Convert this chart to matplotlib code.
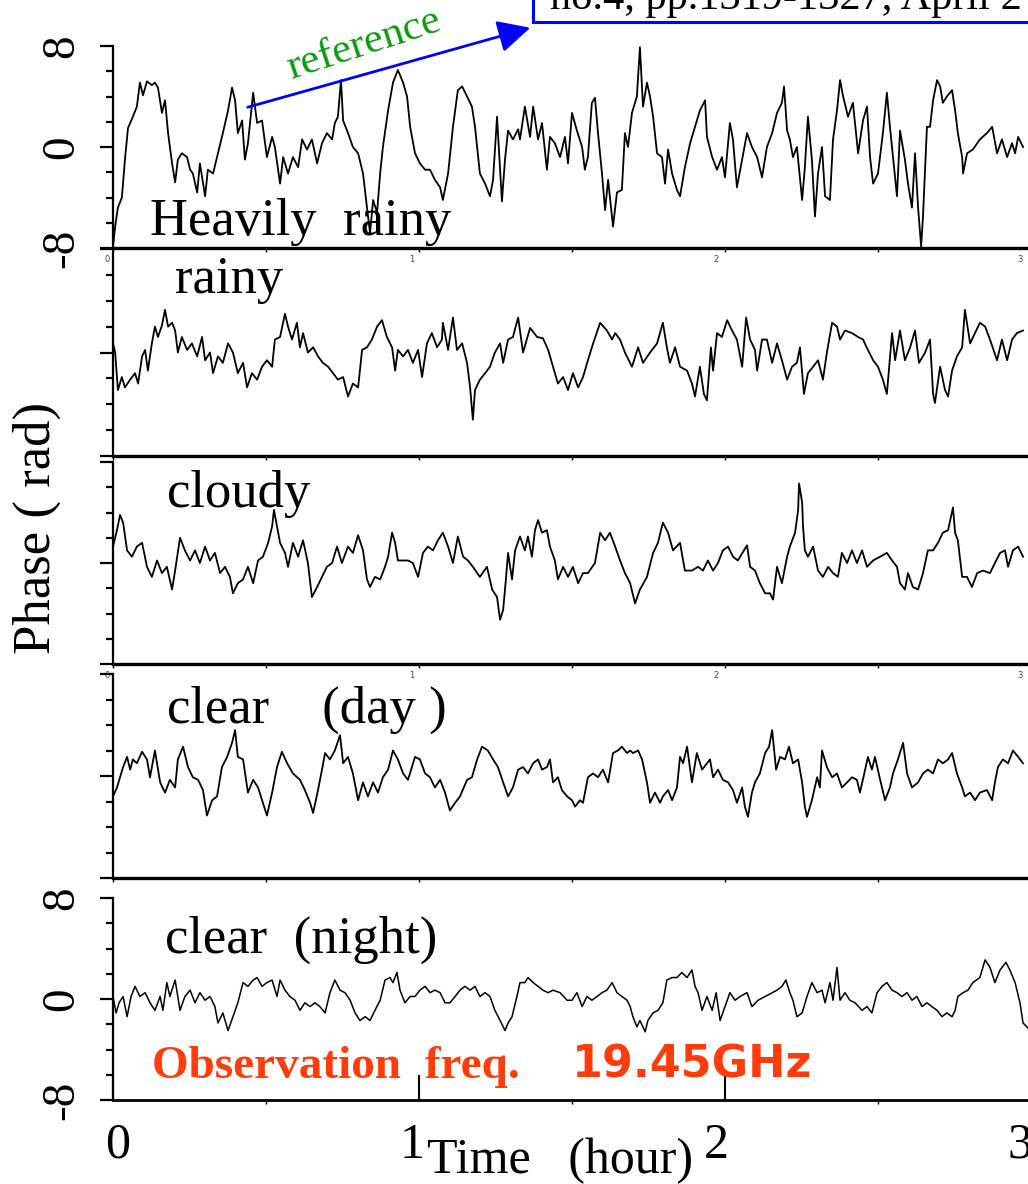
import matplotlib
matplotlib.use("Agg")
import matplotlib.pyplot as plt
from matplotlib.ticker import FixedLocator, MultipleLocator
from matplotlib.patches import Rectangle, FancyArrowPatch
from matplotlib.transforms import ScaledTranslation

plt.rcParams['font.family'] = ['Liberation Serif', 'DejaVu Serif']

# ---- data: time (hour) and phase (rad) ----
t_heavy = [
    0.000, 0.007, 0.016, 0.029, 0.039, 0.049, 0.065, 0.078, 0.088, 0.098,
    0.111, 0.127, 0.137, 0.147, 0.160, 0.170, 0.180, 0.193, 0.203, 0.212,
    0.225, 0.242, 0.252, 0.261, 0.275, 0.284, 0.301, 0.310, 0.327, 0.343,
    0.359, 0.376, 0.389, 0.399, 0.408, 0.422, 0.431, 0.441, 0.458, 0.471,
    0.487, 0.503, 0.520, 0.529, 0.546, 0.556, 0.572, 0.588, 0.605, 0.618,
    0.634, 0.650, 0.667, 0.683, 0.699, 0.716, 0.725, 0.735, 0.745, 0.752,
    0.768, 0.784, 0.801, 0.817, 0.830, 0.840, 0.850, 0.863, 0.873, 0.882,
    0.899, 0.915, 0.931, 0.948, 0.961, 0.971, 0.987, 1.003, 1.020, 1.036,
    1.052, 1.069, 1.078, 1.095, 1.111, 1.127, 1.141, 1.157, 1.173, 1.183,
    1.199, 1.216, 1.232, 1.242, 1.255, 1.271, 1.281, 1.291, 1.307, 1.324,
    1.330, 1.346, 1.363, 1.373, 1.389, 1.402, 1.418, 1.428, 1.444, 1.461,
    1.477, 1.487, 1.500, 1.516, 1.533, 1.542, 1.552, 1.565, 1.575, 1.585,
    1.598, 1.608, 1.618, 1.634, 1.647, 1.663, 1.673, 1.683, 1.696, 1.712,
    1.722, 1.732, 1.745, 1.755, 1.765, 1.778, 1.794, 1.804, 1.814, 1.827,
    1.843, 1.853, 1.869, 1.886, 1.902, 1.918, 1.935, 1.941, 1.958, 1.974,
    1.990, 2.000, 2.016, 2.026, 2.039, 2.056, 2.072, 2.088, 2.105, 2.121,
    2.137, 2.154, 2.170, 2.186, 2.193, 2.203, 2.212, 2.222, 2.235, 2.252,
    2.261, 2.271, 2.284, 2.294, 2.304, 2.317, 2.327, 2.343, 2.353, 2.366,
    2.376, 2.386, 2.402, 2.418, 2.435, 2.451, 2.464, 2.474, 2.484, 2.500,
    2.516, 2.529, 2.539, 2.549, 2.562, 2.572, 2.588, 2.598, 2.611, 2.621,
    2.631, 2.641, 2.647, 2.660, 2.670, 2.680, 2.693, 2.703, 2.712, 2.725,
    2.742, 2.752, 2.761, 2.775, 2.778, 2.791, 2.810, 2.833, 2.856, 2.873,
    2.889, 2.905, 2.922, 2.938, 2.948, 2.958, 2.974]
ph_heavy = [
    -7.9, -6.3, -4.8, -4.0, -1.0, 1.5, 2.4, 3.2, 5.1, 4.1,
    5.2, 4.9, 5.1, 4.7, 2.7, 3.7, 1.1, -1.3, -2.8, -1.0,
    -0.5, -0.8, -1.8, -2.1, -3.6, -1.3, -3.9, -1.8, -2.1, -0.5,
    1.1, 2.9, 4.7, 3.7, 1.1, 2.1, -1.0, 0.3, 4.3, 1.9,
    2.1, -0.8, 0.8, 0.0, -2.9, -0.8, -2.1, -0.8, -1.6, 0.6,
    -0.2, 0.6, -1.3, 0.3, 1.1, 0.6, 1.9, 2.4, 5.3, 2.1,
    1.1, 0.0, -0.5, -2.1, -4.8, -6.8, -4.2, -5.2, -2.1, 0.0,
    2.9, 5.1, 6.1, 5.1, 4.0, 1.6, -0.5, -1.3, -1.8, -1.8,
    -2.6, -3.2, -4.2, -2.1, 1.6, 4.5, 4.8, 4.0, 3.2, 1.6,
    -2.1, -2.9, -3.9, -2.6, 2.4, -4.3, -1.0, 1.3, 0.6, 1.4,
    0.6, 3.2, 0.8, 3.2, 0.6, 1.9, -1.8, 0.8, 0.3, -0.8,
    0.8, -1.3, 2.7, 1.3, 0.0, -1.8, -0.8, 3.5, 3.9, 1.1,
    -2.1, -5.0, -2.6, -6.3, -3.6, -3.4, 1.1, 0.0, 2.7, 4.0,
    7.9, 3.2, 5.1, 4.0, 2.4, -0.5, -0.8, -2.9, -0.2, -2.1,
    -3.4, -3.9, -1.6, 0.3, 1.6, 2.9, 3.7, 0.8, -0.8, -1.8,
    -0.8, -2.4, 1.9, 0.6, -3.2, -1.0, 1.1, 0.0, -0.8, -2.4,
    0.0, 1.1, 2.7, 3.5, 4.8, 1.3, 0.6, -0.8, 0.0, -4.2,
    -1.6, 2.4, -1.0, -5.5, -2.1, 0.0, -3.9, -4.2, 0.6, 2.9,
    5.3, 4.0, 2.4, 3.5, -0.5, 2.1, 3.2, -0.8, -2.9, -2.1,
    1.1, 4.3, 1.6, -0.8, -3.9, 1.3, -1.0, -2.9, -4.8, -0.5,
    -4.8, -7.9, -5.5, 1.6, 1.6, 3.7, 5.3, 4.8, 3.5, 4.0,
    4.5, 2.9, 1.1, -0.8, -2.1, -0.5, -0.2, 0.6, 1.1, 1.6,
    -0.5, 0.6, -0.8, 0.3, -0.5, 0.8, 0.0]

t_rainy = [
    0.000, 0.007, 0.016, 0.029, 0.039, 0.056, 0.072, 0.082, 0.095, 0.105,
    0.114, 0.127, 0.137, 0.147, 0.160, 0.170, 0.180, 0.193, 0.203, 0.212,
    0.225, 0.242, 0.258, 0.275, 0.291, 0.301, 0.317, 0.327, 0.343, 0.359,
    0.376, 0.392, 0.408, 0.425, 0.438, 0.454, 0.471, 0.487, 0.503, 0.520,
    0.529, 0.546, 0.562, 0.572, 0.585, 0.601, 0.611, 0.621, 0.637, 0.654,
    0.670, 0.686, 0.703, 0.719, 0.735, 0.752, 0.768, 0.784, 0.801, 0.814,
    0.830, 0.846, 0.863, 0.879, 0.895, 0.912, 0.922, 0.931, 0.948, 0.964,
    0.980, 0.997, 1.010, 1.026, 1.042, 1.059, 1.075, 1.078, 1.095, 1.111,
    1.124, 1.141, 1.157, 1.167, 1.176, 1.183, 1.199, 1.216, 1.232, 1.248,
    1.265, 1.275, 1.291, 1.307, 1.324, 1.340, 1.363, 1.386, 1.405, 1.422,
    1.438, 1.454, 1.471, 1.487, 1.503, 1.520, 1.536, 1.552, 1.569, 1.592,
    1.614, 1.631, 1.641, 1.657, 1.673, 1.696, 1.716, 1.732, 1.755, 1.778,
    1.797, 1.810, 1.820, 1.837, 1.853, 1.876, 1.892, 1.902, 1.918, 1.931,
    1.941, 1.954, 1.961, 1.974, 1.990, 2.007, 2.023, 2.039, 2.056, 2.069,
    2.082, 2.098, 2.105, 2.121, 2.137, 2.154, 2.170, 2.186, 2.203, 2.219,
    2.235, 2.245, 2.258, 2.271, 2.288, 2.304, 2.320, 2.333, 2.350, 2.366,
    2.376, 2.392, 2.415, 2.435, 2.451, 2.467, 2.484, 2.500, 2.516, 2.529,
    2.546, 2.556, 2.572, 2.588, 2.605, 2.621, 2.634, 2.654, 2.670, 2.680,
    2.686, 2.703, 2.719, 2.729, 2.742, 2.758, 2.775, 2.784, 2.801, 2.817,
    2.833, 2.850, 2.866, 2.889, 2.905, 2.922, 2.938, 2.954, 2.974]
ph_rainy = [
    0.7, 0.0, -2.9, -1.9, -2.7, -2.1, -1.6, -2.4, -0.3, 0.2,
    -1.4, 0.7, 2.0, 1.2, 2.1, 3.3, 2.0, 2.3, 1.7, 0.0,
    1.2, 0.2, 0.7, -0.3, 1.2, -0.6, 0.0, -1.6, -0.3, -0.8,
    0.7, 0.0, -1.6, -0.8, -2.7, -1.6, -2.1, -1.1, -0.6, -1.1,
    1.0, 1.2, 3.0, 2.0, 1.0, 2.3, 0.4, 1.5, 0.0, 0.4,
    -0.3, -0.8, -1.1, -1.6, -2.1, -1.9, -3.4, -2.4, -2.7, 0.2,
    0.4, 1.0, 2.0, 2.5, 1.2, 0.4, -1.4, 0.2, -0.3, 0.2,
    -0.8, 0.2, -1.9, 0.7, 1.5, 0.4, 1.0, 2.3, 0.2, 2.7,
    0.2, 0.7, -0.8, -2.7, -5.2, -2.9, -2.1, -1.6, -1.1, 0.0,
    0.7, -0.8, 1.0, 1.2, 2.7, 0.0, 1.9, 1.2, 1.1, 0.2,
    -1.1, -2.4, -1.9, -2.9, -1.6, -2.7, -1.9, -0.6, 0.7, 2.3,
    1.7, 1.0, 1.5, 1.0, 0.0, -1.1, 0.4, -0.8, 0.0, 0.7,
    2.3, 0.4, -0.8, 0.4, -1.1, -1.4, -2.4, -3.4, -1.1, -3.2,
    -3.7, 0.4, -1.4, 1.5, 1.2, 2.5, 1.7, 1.0, -1.1, 2.7,
    1.0, 0.2, -1.4, 1.0, 1.0, -0.8, 0.7, -0.6, -2.1, -1.1,
    -0.8, 0.4, -3.2, -1.6, -1.1, -0.6, -2.1, 0.0, 2.3, 2.0,
    1.0, 1.7, 1.5, 1.2, 1.0, 0.2, -0.6, -1.1, -2.1, -3.2,
    1.5, -0.6, 1.7, -0.6, 0.4, 1.7, -0.8, 0.0, 1.0, -3.2,
    -3.9, -1.1, -2.9, -3.4, -1.4, -0.3, 0.4, 3.3, 0.7, 1.5,
    2.3, 2.0, 1.0, -0.6, 1.0, -0.6, 1.0, 1.5, 1.7]

t_cloudy = [
    0.000, 0.013, 0.023, 0.033, 0.046, 0.062, 0.078, 0.095, 0.111, 0.127,
    0.144, 0.160, 0.176, 0.193, 0.203, 0.219, 0.235, 0.252, 0.268, 0.284,
    0.301, 0.317, 0.333, 0.350, 0.366, 0.382, 0.392, 0.408, 0.425, 0.441,
    0.458, 0.474, 0.490, 0.507, 0.520, 0.526, 0.536, 0.546, 0.562, 0.572,
    0.588, 0.605, 0.621, 0.637, 0.650, 0.667, 0.683, 0.699, 0.716, 0.732,
    0.748, 0.768, 0.784, 0.801, 0.817, 0.830, 0.840, 0.856, 0.873, 0.889,
    0.899, 0.912, 0.922, 0.931, 0.948, 0.964, 0.980, 0.997, 1.013, 1.029,
    1.046, 1.062, 1.078, 1.095, 1.111, 1.127, 1.144, 1.160, 1.176, 1.199,
    1.222, 1.239, 1.255, 1.265, 1.275, 1.284, 1.291, 1.304, 1.314, 1.330,
    1.346, 1.356, 1.369, 1.379, 1.389, 1.402, 1.418, 1.428, 1.444, 1.454,
    1.471, 1.487, 1.503, 1.520, 1.536, 1.552, 1.575, 1.592, 1.608, 1.624,
    1.641, 1.657, 1.673, 1.690, 1.706, 1.722, 1.745, 1.765, 1.781, 1.797,
    1.814, 1.830, 1.853, 1.869, 1.892, 1.912, 1.928, 1.944, 1.961, 1.977,
    1.993, 2.010, 2.026, 2.042, 2.072, 2.082, 2.098, 2.114, 2.131, 2.147,
    2.157, 2.170, 2.186, 2.203, 2.212, 2.229, 2.239, 2.242, 2.252, 2.255,
    2.261, 2.271, 2.288, 2.304, 2.320, 2.337, 2.353, 2.369, 2.382, 2.399,
    2.415, 2.431, 2.448, 2.464, 2.484, 2.507, 2.529, 2.546, 2.562, 2.572,
    2.588, 2.598, 2.614, 2.631, 2.647, 2.663, 2.680, 2.696, 2.712, 2.729,
    2.745, 2.752, 2.761, 2.775, 2.791, 2.807, 2.824, 2.843, 2.866, 2.882,
    2.899, 2.915, 2.925, 2.941, 2.958, 2.974]
ph_cloudy = [
    1.3, 2.6, 3.8, 3.2, 1.0, 0.5, 1.3, 1.6, -0.3, -1.1,
    0.2, -0.8, -0.3, -2.1, -0.6, 2.0, 1.0, 0.2, 1.0, 0.0,
    1.3, 0.2, 0.8, -0.8, -0.3, -1.1, -2.4, -1.6, -1.3, -0.3,
    -1.6, 0.2, 0.5, 1.6, 2.9, 4.2, 2.9, 1.6, 0.8, -0.3,
    1.6, 0.5, 1.8, 0.0, -2.7, -1.9, -1.1, -0.3, 0.0, 1.3,
    0.0, 1.3, 0.8, 2.2, 1.0, -1.3, -1.9, -1.1, -1.3, -0.3,
    0.5, 2.4, 1.6, 0.2, 0.2, 0.2, 0.0, -1.1, 0.8, 1.3,
    1.0, 1.8, 2.4, 1.3, 0.0, 2.1, 0.5, 0.2, -0.3, -1.1,
    -0.3, -2.1, -2.7, -4.5, -3.7, -1.3, 0.8, -1.3, 1.0, 2.1,
    1.0, 2.1, 0.5, 2.6, 3.4, 2.4, 2.6, 1.3, 0.2, -1.3,
    -0.3, -1.1, -0.3, -1.6, -0.8, -0.8, 0.0, 2.4, 1.8, 2.4,
    1.3, 0.2, -0.8, -1.6, -3.2, -2.1, -1.1, 0.8, 1.6, 3.2,
    2.4, 1.0, 1.6, -0.6, -0.6, -0.3, -0.6, 0.2, -0.6, 0.0,
    1.0, 1.3, 0.5, 0.2, 1.4, -0.3, -0.6, -1.6, -2.4, -2.4,
    -2.9, -0.3, -1.6, 0.5, 1.3, 2.4, 4.2, 6.3, 4.8, 2.9,
    1.0, 0.5, 1.3, -0.6, -1.1, -0.3, -0.8, -1.1, 0.8, 0.0,
    1.0, 0.0, 1.0, -0.3, 0.2, 0.5, 0.8, 0.2, -0.3, -1.6,
    -2.1, -0.8, -1.9, -2.1, -0.8, 1.0, 1.0, 1.6, 2.4, 2.6,
    4.4, 2.4, 1.8, -1.1, -1.1, -1.9, -0.8, -0.6, -0.8, 0.0,
    0.8, 1.0, -0.3, 1.0, 1.3, 0.5]

t_day = [
    0.000, 0.013, 0.023, 0.033, 0.046, 0.056, 0.065, 0.078, 0.095, 0.111,
    0.121, 0.137, 0.154, 0.170, 0.186, 0.203, 0.212, 0.229, 0.245, 0.261,
    0.278, 0.294, 0.307, 0.324, 0.340, 0.356, 0.373, 0.389, 0.399, 0.408,
    0.425, 0.441, 0.458, 0.474, 0.490, 0.503, 0.520, 0.536, 0.552, 0.569,
    0.588, 0.611, 0.627, 0.644, 0.654, 0.670, 0.683, 0.693, 0.709, 0.725,
    0.742, 0.752, 0.768, 0.784, 0.801, 0.817, 0.833, 0.850, 0.866, 0.882,
    0.899, 0.915, 0.931, 0.948, 0.964, 0.987, 1.003, 1.020, 1.036, 1.052,
    1.069, 1.085, 1.101, 1.118, 1.134, 1.157, 1.173, 1.190, 1.206, 1.225,
    1.242, 1.258, 1.275, 1.291, 1.307, 1.324, 1.340, 1.356, 1.373, 1.389,
    1.402, 1.418, 1.428, 1.438, 1.454, 1.467, 1.484, 1.500, 1.510, 1.526,
    1.536, 1.552, 1.569, 1.585, 1.601, 1.618, 1.634, 1.650, 1.663, 1.680,
    1.690, 1.699, 1.716, 1.729, 1.745, 1.755, 1.771, 1.788, 1.797, 1.814,
    1.827, 1.843, 1.853, 1.863, 1.876, 1.892, 1.908, 1.925, 1.941, 1.951,
    1.961, 1.977, 1.993, 2.010, 2.026, 2.039, 2.056, 2.065, 2.075, 2.088,
    2.098, 2.114, 2.131, 2.144, 2.154, 2.167, 2.180, 2.196, 2.209, 2.222,
    2.239, 2.252, 2.261, 2.268, 2.284, 2.301, 2.310, 2.317, 2.333, 2.350,
    2.366, 2.382, 2.399, 2.415, 2.431, 2.441, 2.458, 2.467, 2.480, 2.490,
    2.507, 2.523, 2.539, 2.549, 2.565, 2.582, 2.595, 2.611, 2.631, 2.647,
    2.663, 2.680, 2.696, 2.712, 2.729, 2.742, 2.758, 2.775, 2.784, 2.801,
    2.817, 2.833, 2.856, 2.873, 2.882, 2.892, 2.908, 2.925, 2.941, 2.958,
    2.974]
ph_day = [
    -1.6, -0.9, -0.1, 0.7, 1.5, 0.5, 1.3, 1.0, 1.9, 1.3,
    -0.1, 2.0, -0.5, -1.3, -0.3, -0.9, 1.3, 2.3, 0.7, -0.1,
    -0.3, -1.1, -3.1, -1.9, -1.6, 0.7, 1.5, 2.6, 3.6, 1.5,
    1.3, -1.3, -0.3, -0.9, -2.1, -3.1, -1.3, 0.7, 1.9, 1.0,
    0.2, -0.3, -1.1, -2.1, -2.9, -1.1, 0.5, 1.8, 1.3, 2.0,
    3.2, 1.0, 1.5, 0.2, -1.9, -0.5, -1.6, -0.5, -1.3, -0.1,
    0.5, 2.0, 1.3, 0.2, -0.3, 1.5, 1.3, 0.2, -0.1, -0.9,
    -0.3, -1.3, -2.7, -2.1, -1.6, -0.3, -0.1, 1.3, 2.3, 2.0,
    1.3, 0.7, -0.5, -1.6, -0.9, 0.5, 0.7, 0.2, 1.0, 1.3,
    0.5, 0.7, 1.3, -0.5, -0.1, -1.1, -1.6, -1.9, -2.4, -1.9,
    -2.1, -0.1, 0.2, -0.1, 0.5, -0.5, 1.8, 2.0, 2.3, 1.8,
    2.0, 1.8, 2.0, 1.3, -0.5, -2.1, -1.3, -2.1, -1.6, -1.1,
    -1.9, -0.9, 1.5, 1.0, 2.3, -0.5, 1.8, 0.5, 1.0, 1.3,
    -0.1, 0.5, -0.3, -0.5, -1.1, -2.1, -0.9, -2.4, -3.2, -1.3,
    -0.5, 0.2, 1.8, 2.3, 3.6, 0.5, 1.5, 1.3, 2.3, 1.0,
    1.3, -0.5, -2.4, -3.2, -1.9, -0.1, -0.9, 2.0, 0.7, -0.1,
    0.2, -0.9, -0.5, -0.1, -0.3, -1.3, 0.5, 1.5, 0.5, 1.5,
    -0.3, -1.9, -0.9, 0.2, 1.3, 2.6, 0.2, -0.9, -0.5, 0.2,
    0.5, 0.2, 1.3, 1.0, 1.3, 1.8, 0.2, -0.9, -1.6, -1.3,
    -1.9, -1.3, -1.1, -1.9, -0.5, 0.7, 1.3, 1.0, 2.0, 1.5,
    1.0]

t_night = [
    0.000, 0.010, 0.020, 0.033, 0.046, 0.059, 0.072, 0.088, 0.105, 0.121,
    0.137, 0.154, 0.163, 0.176, 0.186, 0.203, 0.219, 0.235, 0.252, 0.268,
    0.284, 0.301, 0.317, 0.333, 0.343, 0.359, 0.376, 0.392, 0.408, 0.425,
    0.441, 0.458, 0.471, 0.487, 0.503, 0.520, 0.536, 0.546, 0.562, 0.578,
    0.595, 0.611, 0.627, 0.644, 0.660, 0.676, 0.693, 0.709, 0.725, 0.742,
    0.758, 0.775, 0.791, 0.807, 0.824, 0.840, 0.856, 0.873, 0.889, 0.905,
    0.915, 0.928, 0.938, 0.954, 0.971, 0.987, 1.003, 1.020, 1.036, 1.052,
    1.069, 1.085, 1.101, 1.118, 1.134, 1.150, 1.167, 1.183, 1.199, 1.216,
    1.232, 1.248, 1.265, 1.281, 1.291, 1.304, 1.320, 1.330, 1.346, 1.356,
    1.373, 1.389, 1.405, 1.422, 1.438, 1.461, 1.484, 1.500, 1.516, 1.533,
    1.549, 1.565, 1.582, 1.598, 1.614, 1.631, 1.647, 1.663, 1.680, 1.690,
    1.699, 1.712, 1.722, 1.739, 1.748, 1.765, 1.781, 1.797, 1.810, 1.827,
    1.843, 1.859, 1.876, 1.892, 1.902, 1.912, 1.925, 1.941, 1.958, 1.971,
    1.984, 2.000, 2.016, 2.033, 2.049, 2.072, 2.088, 2.108, 2.131, 2.154,
    2.170, 2.186, 2.199, 2.212, 2.222, 2.235, 2.252, 2.268, 2.284, 2.301,
    2.317, 2.327, 2.343, 2.353, 2.366, 2.376, 2.392, 2.408, 2.425, 2.448,
    2.464, 2.480, 2.497, 2.513, 2.529, 2.546, 2.562, 2.578, 2.595, 2.611,
    2.627, 2.644, 2.660, 2.676, 2.693, 2.709, 2.725, 2.742, 2.752, 2.761,
    2.778, 2.794, 2.810, 2.833, 2.850, 2.866, 2.882, 2.899, 2.918, 2.931,
    2.948, 2.964, 2.974, 2.990]
ph_night = [
    0.2, -1.1, -0.3, 0.2, -1.4, 0.2, 1.0, 0.2, 0.5, -0.3,
    -0.9, 0.2, -0.9, 1.3, 0.2, 1.5, -0.9, 0.2, 0.7, -0.3,
    0.5, -0.1, 0.2, -0.6, -1.9, -1.1, -2.5, -1.4, -0.3, 1.3,
    1.0, 1.5, 1.7, 1.0, 1.3, 1.5, 0.2, 1.5, 0.7, 0.2,
    -0.1, -0.9, -0.3, -0.6, -0.3, -0.6, -1.1, 0.5, 1.5, 0.7,
    0.5, -0.1, -1.1, -1.7, -1.4, -1.7, -0.9, -0.1, 1.5, 1.7,
    1.3, 2.1, 0.7, -0.3, 0.2, 0.2, 0.7, 1.0, 0.5, 0.7,
    0.5, -0.3, -0.3, 0.2, 0.7, 1.0, 0.7, 1.0, 0.2, 0.5,
    0.2, -0.9, -1.7, -2.5, -1.9, -1.4, 0.2, 1.3, 1.3, 1.7,
    1.3, 1.0, 0.7, 0.5, 0.7, 0.5, -0.1, -0.1, 0.5, -0.6,
    0.2, -0.1, 0.2, 0.5, 0.7, 1.3, 0.5, 0.2, -0.1, -0.6,
    -1.4, -2.2, -1.7, -2.6, -1.7, -1.1, -0.9, -0.3, 1.5, 1.7,
    1.7, 2.1, 1.7, 2.3, 1.0, 0.5, -0.9, 0.2, -0.9, 0.5,
    -1.7, -0.6, 0.5, -0.1, 0.2, 0.5, -0.6, -0.1, 0.2, 0.5,
    0.7, 1.0, 1.5, 0.5, -0.1, -1.4, -1.1, 0.2, 1.3, 0.5,
    0.7, -0.3, 1.3, -0.1, 2.5, -0.1, 0.5, -0.1, -0.3, -0.9,
    -0.6, -1.1, 0.5, 1.0, 1.3, 0.7, 0.5, 0.2, 0.5, -0.1,
    0.2, -0.6, -0.3, -0.6, -0.9, -1.4, -1.1, -1.4, -0.9, 0.2,
    0.5, 0.7, 1.3, 1.7, 3.1, 2.5, 1.3, 2.3, 2.9, 2.3,
    1.3, -0.3, -1.9, -2.3]

labels = ['Heavily  rainy', 'rainy', 'cloudy', 'clear    (day )', 'clear  (night)']
ytick_vals = [-8, 0, 8]
ytick_text = ['-8', '0', '8']
xtick_vals = [0, 1, 2, 3]
xtick_text = ['0', '1', '2', '3']

series = [(t_heavy, ph_heavy), (t_rainy, ph_rainy), (t_cloudy, ph_cloudy),
          (t_day, ph_day), (t_night, ph_night)]

# ---- layout (pixels of the 1028x1184 picture) ----
W, H = 1028, 1184
def fx(x):
    return x / W
def fy(y):
    return 1 - y / H

panel_px = [(46, 248), (249, 456), (462, 664), (674, 878), (898, 1100)]
label_px = [(150, 235), (175, 293), (167, 507), (167, 723), (165, 953)]
small_shift = [-6, -7, -9, -11]   # tick labels sit a little left of their ticks
big_shift = [5, -7, -9, -11]
red = '#ff3c0a'
blue = '#0000ff'

fig = plt.figure(figsize=(W / 100, H / 100), dpi=100)

def shift_labels(ax, shifts):
    for lb, dx in zip(ax.get_xticklabels(), shifts):
        lb.set_transform(lb.get_transform() + ScaledTranslation(dx / 100, 0, fig.dpi_scale_trans))

for i, (t, ph) in enumerate(series):
    top, bot = panel_px[i]
    ax = fig.add_axes([fx(113), fy(bot), (1031 - 113) / W, (bot - top) / H])
    ax.patch.set_alpha(0)
    ax.plot(t, ph, color='black', lw=1.3 if i < 4 else 1.1)
    ax.set_xlim(0, 3)
    ax.set_ylim(-8, 8)
    ax.spines['top'].set_visible(False)
    ax.spines['right'].set_visible(False)
    ax.spines['left'].set_linewidth(1.6)
    ax.spines['bottom'].set_linewidth(2.4 if i < 4 else 2.0)

    ax.yaxis.set_major_locator(FixedLocator(ytick_vals))
    ax.yaxis.set_minor_locator(MultipleLocator(2))
    ax.tick_params(axis='y', which='major', direction='out', length=9.5, width=1.6)
    ax.tick_params(axis='y', which='minor', direction='out', length=5, width=1.6)
    if i in (0, 4):
        ax.set_yticklabels(ytick_text, rotation=90, fontsize=34)
        ax.tick_params(axis='y', pad=12)
        for lb in ax.get_yticklabels():
            lb.set_va('center')
    else:
        ax.tick_params(axis='y', labelleft=False)

    ax.xaxis.set_major_locator(FixedLocator(xtick_vals))
    ax.xaxis.set_minor_locator(MultipleLocator(0.5))
    if i < 4:
        ax.tick_params(axis='x', which='both', direction='out', length=3, width=1, pad=2)
        if i in (0, 2):
            ax.set_xticklabels(xtick_text, fontsize=6, color='#444444', family='DejaVu Sans')
            shift_labels(ax, small_shift)
        else:
            ax.tick_params(axis='x', labelbottom=False)
    else:
        ax.set_xticklabels(xtick_text, fontsize=36)
        ax.tick_params(axis='x', which='major', direction='in', length=18, width=1.5, pad=16)
        ax.tick_params(axis='x', which='minor', direction='out', length=3, width=1)
        shift_labels(ax, big_shift)

    lx, ly = label_px[i]
    fig.text(fx(lx), fy(ly), labels[i], fontsize=38, va='baseline', ha='left')

# axis titles
fig.text(fx(37), fy(528), 'Phase ( rad)', rotation=90, fontsize=38, ha='center', va='center')
fig.text(fx(427), fy(1173), 'Time   (hour)', fontsize=36, va='baseline', ha='left')

# frequency note
fig.text(fx(152), fy(1078), 'Observation  freq.', fontsize=34, fontweight='bold',
         color=red, va='baseline', ha='left')
fig.text(fx(572), fy(1078), '19.45GHz', fontsize=32, family='DejaVu Sans',
         fontweight='bold', color=red, va='baseline', ha='left')

# reference box and arrow at the top
box = Rectangle((fx(533), fy(22)), 0.6, 0.05, transform=fig.transFigure,
                facecolor='white', edgecolor=blue, lw=2.2, zorder=5)
fig.add_artist(box)
fig.text(fx(550), fy(9), 'no.4, pp.1319-1327, April 2', fontsize=30.5,
         va='baseline', ha='left', zorder=6)
arrow = FancyArrowPatch((fx(245), fy(108)), (fx(533), fy(27)), transform=fig.transFigure,
                        arrowstyle='-|>,head_length=0.9,head_width=0.45',
                        mutation_scale=22, color=blue, lw=2, zorder=6)
fig.add_artist(arrow)
fig.text(fx(364), fy(45), 'reference', rotation=18, rotation_mode='anchor',
         fontsize=31, color='#0d9a0d', ha='center', va='center', zorder=6)

fig.savefig('out.png', dpi=100)
